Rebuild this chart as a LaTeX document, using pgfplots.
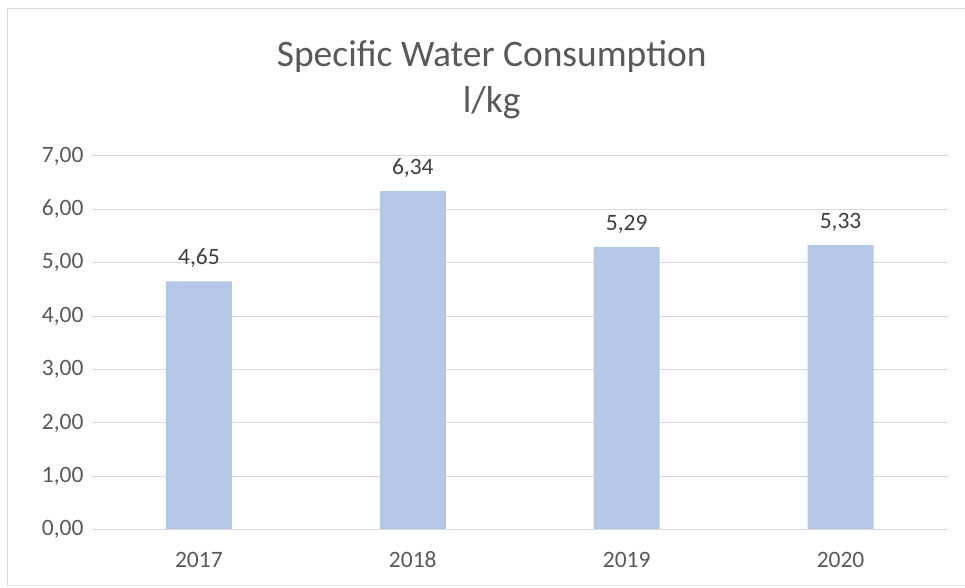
\documentclass[border=0pt]{standalone}
\usepackage{fontspec}
\setmainfont{Carlito}
\usepackage{pgfplots}
\pgfplotsset{compat=1.18}
\definecolor{barblue}{HTML}{B4C7E7}
\definecolor{gridgray}{HTML}{D9D9D9}
\definecolor{txtgray}{HTML}{595959}
\definecolor{lblgray}{HTML}{404040}
\begin{document}
\begin{tikzpicture}[x=1pt,y=1pt]
% page frame (965 x 588)
\path[fill=white] (0,0) rectangle (965,588);
\draw[gridgray,line width=1pt] (8,2) -- (8,579) -- (965,579);
\draw[gridgray!60,line width=1pt] (8,2) -- (965,2);
\node[txtgray,font=\fontsize{37.5}{44}\selectfont] at (492,531) {Specific Water Consumption};
\node[txtgray,font=\fontsize{37.5}{44}\selectfont] at (492,485) {l/kg};
\begin{axis}[
    at={(92pt,58pt)}, anchor=south west,
    scale only axis,
    width=856pt, height=374pt,
    xmin=0.5, xmax=4.5,
    ymin=0, ymax=7,
    ytick={0,1,...,7},
    xtick={1,2,3,4},
    xticklabels={2017,2018,2019,2020},
    axis line style={draw=none},
    axis x line*=bottom,
    major tick length=0pt,
    ymajorgrids,
    grid style={gridgray, line width=0.9pt},
    tick label style={txtgray, font=\fontsize{23.5}{28}\selectfont},
    yticklabel style={xshift=-5pt},
    xticklabel style={yshift=-27pt, text height=1.5ex, text depth=0.3ex},
    /pgf/number format/.cd, fixed, fixed zerofill, precision=2, use comma, assume math mode=true,
    /pgfplots/.cd,
    ybar, bar width=66pt,
    nodes near coords,
    nodes near coords style={lblgray, font=\fontsize{23.5}{28}\selectfont, yshift=10pt},
]
\addplot[fill=barblue, draw=none] coordinates {(1,4.65) (2,6.34) (3,5.29) (4,5.33)};
\draw[gridgray, line width=0.9pt] (axis cs:0.5,0) -- (axis cs:4.5,0);
\end{axis}
\end{tikzpicture}
\end{document}
